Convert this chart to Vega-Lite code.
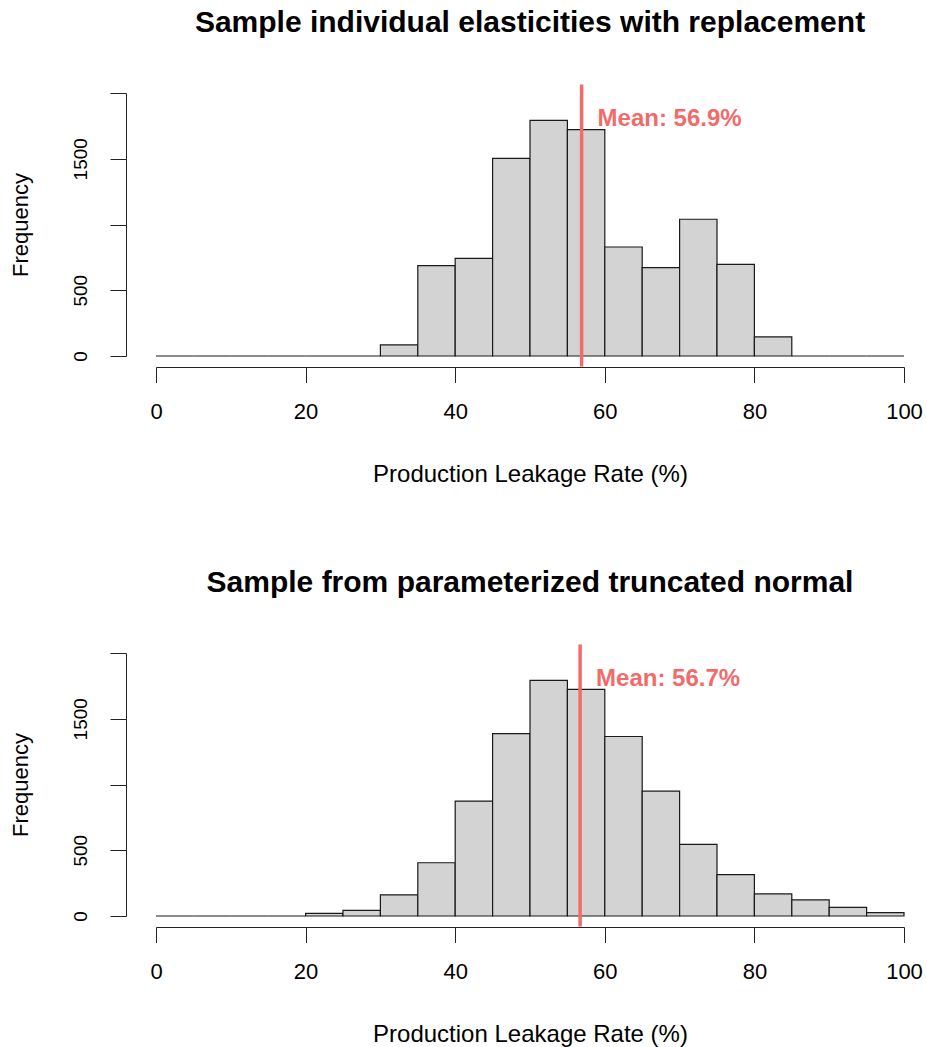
{
  "$schema": "https://vega.github.io/schema/vega-lite/v6.json",
  "background": "white",
  "padding": {"left": 9, "top": 7, "right": 5, "bottom": 5},
  "spacing": 80,
  "config": {
    "view": {"stroke": null},
    "font": "Liberation Sans",
    "title": {"font": "Liberation Sans", "fontSize": 30, "fontWeight": "bold", "color": "black", "offset": 45},
    "axis": {"grid": false, "domainColor": "#222", "tickColor": "#222", "labelColor": "black", "titleColor": "black", "titleFontWeight": "normal", "labelFont": "Liberation Sans", "titleFont": "Liberation Sans", "domainWidth": 1, "tickWidth": 1}
  },
  "datasets": {
    "elastic": [
      {"bin_start": 0, "bin_end": 5, "count": 0},
      {"bin_start": 5, "bin_end": 10, "count": 0},
      {"bin_start": 10, "bin_end": 15, "count": 0},
      {"bin_start": 15, "bin_end": 20, "count": 0},
      {"bin_start": 20, "bin_end": 25, "count": 0},
      {"bin_start": 25, "bin_end": 30, "count": 0},
      {"bin_start": 30, "bin_end": 35, "count": 85},
      {"bin_start": 35, "bin_end": 40, "count": 687},
      {"bin_start": 40, "bin_end": 45, "count": 742},
      {"bin_start": 45, "bin_end": 50, "count": 1503},
      {"bin_start": 50, "bin_end": 55, "count": 1792},
      {"bin_start": 55, "bin_end": 60, "count": 1722},
      {"bin_start": 60, "bin_end": 65, "count": 829},
      {"bin_start": 65, "bin_end": 70, "count": 672},
      {"bin_start": 70, "bin_end": 75, "count": 1040},
      {"bin_start": 75, "bin_end": 80, "count": 697},
      {"bin_start": 80, "bin_end": 85, "count": 146},
      {"bin_start": 85, "bin_end": 90, "count": 0},
      {"bin_start": 90, "bin_end": 95, "count": 0},
      {"bin_start": 95, "bin_end": 100, "count": 0}
    ],
    "truncnorm": [
      {"bin_start": 0, "bin_end": 5, "count": 0},
      {"bin_start": 5, "bin_end": 10, "count": 0},
      {"bin_start": 10, "bin_end": 15, "count": 0},
      {"bin_start": 15, "bin_end": 20, "count": 0},
      {"bin_start": 20, "bin_end": 25, "count": 20},
      {"bin_start": 25, "bin_end": 30, "count": 43},
      {"bin_start": 30, "bin_end": 35, "count": 161},
      {"bin_start": 35, "bin_end": 40, "count": 405},
      {"bin_start": 40, "bin_end": 45, "count": 874},
      {"bin_start": 45, "bin_end": 50, "count": 1387},
      {"bin_start": 50, "bin_end": 55, "count": 1792},
      {"bin_start": 55, "bin_end": 60, "count": 1724},
      {"bin_start": 60, "bin_end": 65, "count": 1365},
      {"bin_start": 65, "bin_end": 70, "count": 949},
      {"bin_start": 70, "bin_end": 75, "count": 544},
      {"bin_start": 75, "bin_end": 80, "count": 315},
      {"bin_start": 80, "bin_end": 85, "count": 168},
      {"bin_start": 85, "bin_end": 90, "count": 123},
      {"bin_start": 90, "bin_end": 95, "count": 66},
      {"bin_start": 95, "bin_end": 100, "count": 25}
    ],
    "mean_elastic": [{"mean": 56.9, "label": "Mean: 56.9%"}],
    "mean_truncnorm": [{"mean": 56.7, "label": "Mean: 56.7%"}]
  },
  "vconcat": [
    {
      "width": 748,
      "height": 263,
      "title": {"text": "Sample individual elasticities with replacement"},
      "layer": [
        {
          "data": {"name": "elastic"},
          "mark": {"type": "rect", "fill": "#D3D3D3", "stroke": "#1a1a1a", "strokeWidth": 1.2},
          "encoding": {
            "x": {"field": "bin_start", "type": "quantitative", "scale": {"domain": [0, 100], "nice": false, "zero": false},
              "axis": {"values": [0, 20, 40, 60, 80, 100], "title": "Production Leakage Rate (%)", "offset": 11, "tickSize": 15.5, "labelFontSize": 22, "titleFontSize": 24, "labelPadding": 19, "titlePadding": 40, "labelFlush": false}},
            "x2": {"field": "bin_end"},
            "y": {"field": "count", "type": "quantitative", "scale": {"domain": [0, 2000], "nice": false},
              "axis": {"values": [0, 500, 1000, 1500, 2000], "labelExpr": "datum.value == 1000 || datum.value == 2000 ? '' : toString(datum.value)", "title": "Frequency", "offset": 30, "tickSize": 16, "labelAngle": -90, "labelAlign": "center", "labelBaseline": "bottom", "labelFontSize": 19, "labelPadding": 20, "titleFontSize": 22, "titlePadding": 39}},
            "y2": {"datum": 0}
          }
        },
        {
          "data": {"name": "mean_elastic"},
          "mark": {"type": "rule", "color": "#F26B6B", "strokeWidth": 3.5},
          "encoding": {
            "x": {"field": "mean", "type": "quantitative"},
            "y": {"datum": -80, "type": "quantitative"},
            "y2": {"datum": 2064}
          }
        },
        {
          "data": {"name": "mean_elastic"},
          "mark": {"type": "text", "color": "#F26B6B", "fontSize": 24, "fontWeight": "bold", "align": "left", "baseline": "middle", "dx": 16, "font": "Liberation Sans"},
          "encoding": {
            "x": {"field": "mean", "type": "quantitative"},
            "y": {"datum": 1800, "type": "quantitative"},
            "text": {"field": "label"}
          }
        }
      ]
    },
    {
      "width": 748,
      "height": 263,
      "title": {"text": "Sample from parameterized truncated normal"},
      "layer": [
        {
          "data": {"name": "truncnorm"},
          "mark": {"type": "rect", "fill": "#D3D3D3", "stroke": "#1a1a1a", "strokeWidth": 1.2},
          "encoding": {
            "x": {"field": "bin_start", "type": "quantitative", "scale": {"domain": [0, 100], "nice": false, "zero": false},
              "axis": {"values": [0, 20, 40, 60, 80, 100], "title": "Production Leakage Rate (%)", "offset": 11, "tickSize": 15.5, "labelFontSize": 22, "titleFontSize": 24, "labelPadding": 19, "titlePadding": 40, "labelFlush": false}},
            "x2": {"field": "bin_end"},
            "y": {"field": "count", "type": "quantitative", "scale": {"domain": [0, 2000], "nice": false},
              "axis": {"values": [0, 500, 1000, 1500, 2000], "labelExpr": "datum.value == 1000 || datum.value == 2000 ? '' : toString(datum.value)", "title": "Frequency", "offset": 30, "tickSize": 16, "labelAngle": -90, "labelAlign": "center", "labelBaseline": "bottom", "labelFontSize": 19, "labelPadding": 20, "titleFontSize": 22, "titlePadding": 39}},
            "y2": {"datum": 0}
          }
        },
        {
          "data": {"name": "mean_truncnorm"},
          "mark": {"type": "rule", "color": "#F26B6B", "strokeWidth": 3.5},
          "encoding": {
            "x": {"field": "mean", "type": "quantitative"},
            "y": {"datum": -80, "type": "quantitative"},
            "y2": {"datum": 2064}
          }
        },
        {
          "data": {"name": "mean_truncnorm"},
          "mark": {"type": "text", "color": "#F26B6B", "fontSize": 24, "fontWeight": "bold", "align": "left", "baseline": "middle", "dx": 16, "font": "Liberation Sans"},
          "encoding": {
            "x": {"field": "mean", "type": "quantitative"},
            "y": {"datum": 1800, "type": "quantitative"},
            "text": {"field": "label"}
          }
        }
      ]
    }
  ]
}
